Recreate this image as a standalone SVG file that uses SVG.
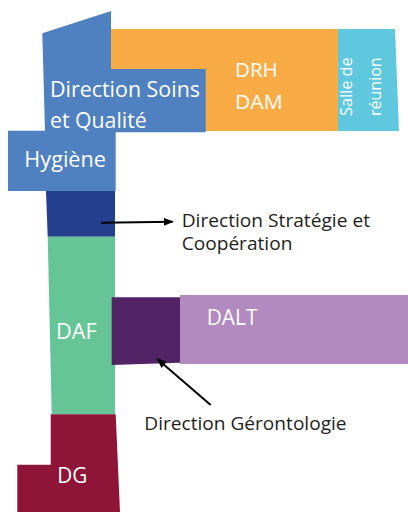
<svg xmlns="http://www.w3.org/2000/svg" width="408" height="512" viewBox="0 0 408 512">
<style>
.lbl{font-family:"Open Sans","Noto Sans",sans-serif;fill:#ffffff}
.note{font-family:"Open Sans","Noto Sans",sans-serif;fill:#231f20;font-size:18px}
.con{stroke:#000;stroke-width:2;fill:none;marker-end:url(#ah)}
</style>
<defs>
<marker id="ah" viewBox="0 0 10 8" refX="9" refY="4" markerWidth="10" markerHeight="8" markerUnits="userSpaceOnUse" orient="auto">
<path d="M0,0 L10,4 L0,8 z" fill="#000"/>
</marker>
</defs>
<rect width="408" height="512" fill="#ffffff"/>
<g id="drh-dam">
<polygon points="111,29 338.5,29 338.5,131 205.7,131 111,131" fill="#f9ac45"/>
<text class="lbl" x="235" y="76.7" font-size="20" textLength="42.7" lengthAdjust="spacingAndGlyphs">DRH</text>
<text class="lbl" x="235" y="109.3" font-size="20" textLength="47.7" lengthAdjust="spacingAndGlyphs">DAM</text>
</g>
<g id="salle">
<polygon points="338,29 395,29 399,131 338,131" fill="#5fc8de"/>
<text class="lbl" transform="translate(351.5,116) rotate(-90)" font-size="17" textLength="58.7" lengthAdjust="spacingAndGlyphs">Salle de</text>
<text class="lbl" transform="translate(380.7,116) rotate(-90)" font-size="17" textLength="58.7" lengthAdjust="spacingAndGlyphs">réunion</text>
</g>
<g id="soins">
<polygon points="42.3,33.3 111,11 111,69 205.7,69 205.7,132.3 45,132.3" fill="#4f81c1"/>
<text class="lbl" x="50" y="96.7" font-size="21.5" textLength="150" lengthAdjust="spacingAndGlyphs">Direction Soins</text>
<text class="lbl" x="50" y="128.3" font-size="21.5" textLength="96.7" lengthAdjust="spacingAndGlyphs">et Qualité</text>
</g>
<g id="hygiene">
<rect x="8" y="130.7" width="107.7" height="60.3" fill="#4f81c1"/>
<text class="lbl" x="24.3" y="166.7" font-size="21.5" textLength="81.7" lengthAdjust="spacingAndGlyphs">Hygiène</text>
</g>
<g id="strategie">
<polygon points="46,191 115,191 115,236.7 47.7,236.7" fill="#233f8d"/>
<text class="note" x="181.7" y="227" textLength="188.3" lengthAdjust="spacingAndGlyphs">Direction Stratégie et</text>
<text class="note" x="181.7" y="249.5" textLength="110.7" lengthAdjust="spacingAndGlyphs">Coopération</text>
</g>
<g id="daf">
<polygon points="47.7,236.7 115,236.7 115,414.3 51.7,414.3" fill="#66c597"/>
<text class="lbl" x="56" y="339.3" font-size="22" textLength="40.7" lengthAdjust="spacingAndGlyphs">DAF</text>
</g>
<g id="dalt">
<rect x="180" y="295" width="228" height="69" fill="#b28abf"/>
<text class="lbl" x="206.7" y="325" font-size="22.5" textLength="50.7" lengthAdjust="spacingAndGlyphs">DALT</text>
</g>
<g id="gerontologie">
<polygon points="111.7,297.3 180,297.3 180,362.7 111.7,365" fill="#522466"/>
<text class="note" x="144.3" y="430" textLength="202.3" lengthAdjust="spacingAndGlyphs">Direction Gérontologie</text>
</g>
<g id="dg">
<polygon points="50.7,414.3 115.7,414.3 120,512 17.3,512 17.3,464.7 50.7,464.7" fill="#8e1538"/>
<text class="lbl" x="57.3" y="482.7" font-size="21.5" textLength="30" lengthAdjust="spacingAndGlyphs">DG</text>
</g>
<g id="connectors">
<line class="con" x1="101" y1="222.7" x2="172.7" y2="221.7"/>
<line class="con" x1="210.7" y1="405" x2="157.3" y2="359"/>
</g>
</svg>
